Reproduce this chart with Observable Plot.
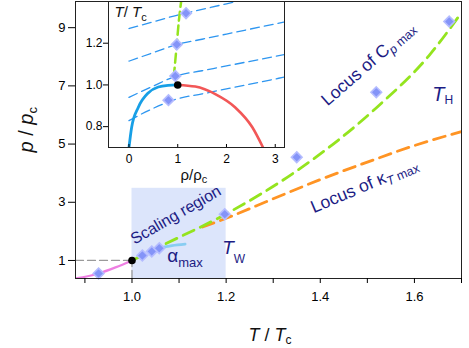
<!DOCTYPE html>
<html><head><meta charset="utf-8">
<script src="https://cdn.jsdelivr.net/npm/d3@7"></script>
<script src="https://cdn.jsdelivr.net/npm/@observablehq/plot@0.6"></script>
<style>
body{margin:0;background:#fff;}
#chart{position:relative;width:469px;height:348px;overflow:hidden;}
#chart svg{position:absolute;top:0;left:0;}
</style></head><body><div id="chart"></div>
<script>
// ---------- main chart data (T/Tc, p/pc) ----------
const vaporT = [0.88, 0.929, 0.965, 1.0];
const vaporP = [0.38, 0.552, 0.76, 1.0];
const cpT = [1.0, 1.07, 1.2, 1.35, 1.52, 1.634, 1.70];
const cpP = [1.0, 1.56, 2.6, 4.08, 6.26, 8.1, 9.52];
const ktT = [1.15, 1.2, 1.3, 1.4, 1.5, 1.6, 1.7];
const ktP = [2.15, 2.45, 3.12, 3.78, 4.38, 4.95, 5.43];
const alphaT = [1.055, 1.085, 1.113];
const alphaP = [1.42, 1.51, 1.56];
const diamondT = [0.929, 1.022, 1.042, 1.058, 1.197, 1.35, 1.519, 1.674];
const diamondP = [0.552, 1.17, 1.31, 1.42, 2.59, 4.55, 6.78, 9.21];
const criticalT = [1.0];
const criticalP = [1.0];
const scalingT = [1.0, 1.2];
const scalingP = [0.38, 3.48];
const mainXTicks = [1.0, 1.2, 1.4, 1.6];
const mainXMinor = [0.9, 1.1, 1.3, 1.5, 1.7];
const mainYTicks = [1, 3, 5, 7, 9];

// ---------- inset data (rho/rhoc, T/Tc) ----------
const gasRho = [0, 0.055, 0.19, 0.4, 0.6, 0.8, 1.0];
const gasT = [0.70, 0.797, 0.892, 0.963, 0.99, 0.998, 1.0];
const liqRho = [1.0, 1.36, 1.77, 2.18, 2.53, 2.75];
const liqT = [1.0, 0.992, 0.956, 0.892, 0.797, 0.70];
const isoRho = [0, 0.5, 1.0, 1.5, 2.0, 3.2];
const iso1T = [0.829, 0.888, 0.934, 0.957, 0.981, 1.038];
const iso2T = [0.94, 0.995, 1.045, 1.068, 1.091, 1.146];
const iso3T = [1.114, 1.155, 1.195, 1.219, 1.244, 1.302];
const iso4T = [1.27, 1.303, 1.335, 1.362, 1.389, 1.45];
const insetCpRho = [0.92, 0.98, 1.02, 1.07];
const insetCpT = [1.04, 1.194, 1.3, 1.4];
const insetDiaRho = [0.81, 0.95, 0.98, 1.17];
const insetDiaT = [0.927, 1.043, 1.194, 1.344];
const insetXTicks = [0, 1, 2, 3];
const insetYTicks = [0.8, 1.0, 1.2];

// annotation anchors (data coordinates)
const annScaling = {x: 1.0053, y: 1.54};
const annAlpha = {x: 1.0748, y: 0.94};
const annTW = {x: 1.1916, y: 1.229};
const annCp = {x: 1.4154, y: 6.29};
const annTH = {x: 1.6378, y: 6.497};
const annKt = {x: 1.3863, y: 2.624};

const zip = (xs, ys) => xs.map((x, i) => ({x, y: ys[i]}));

const FONT = '"Liberation Sans", Arial, Helvetica, sans-serif';
const NAVY = "#1c1c84";
const ctx = document.createElement("canvas").getContext("2d");
function tw(p) { ctx.font = `${p.italic ? "italic " : ""}${p.size}px ${FONT}`; return ctx.measureText(p.t).width; }
function rich(datum, parts, opts) {
  const rot = opts.rotate || 0;
  const r = rot * Math.PI / 180;
  let adv = 0;
  return parts.map(p => {
    const a = adv, b = p.shift || 0;
    adv += tw(p);
    const o = {
      text: () => p.t,
      rotate: rot,
      dx: (opts.dx || 0) + a * Math.cos(r) - b * Math.sin(r),
      dy: (opts.dy || 0) + a * Math.sin(r) + b * Math.cos(r),
      fontSize: p.size, fontStyle: p.italic ? "italic" : "normal",
      textAnchor: "start", lineAnchor: "bottom", fill: opts.fill || "#111", fontFamily: FONT
    };
    if (datum) { o.x = "x"; o.y = "y"; } else { o.frameAnchor = opts.frameAnchor; }
    return Plot.text([datum || {}], o);
  });
}

const diamondStyle = {symbol: "diamond2", r: 4.8, fill: "#8494f8", stroke: "#b4bcff", strokeWidth: 1.6};

const main = Plot.plot({
  width: 469, height: 348,
  marginLeft: 75, marginRight: 8, marginTop: 1, marginBottom: 70,
  style: {background: "transparent", fontFamily: FONT, overflow: "visible"},
  x: {domain: [0.88, 1.70]},
  y: {domain: [0.38, 9.9]},
  marks: [
    Plot.rect([{x1: scalingT[0], x2: scalingT[1], y1: scalingP[0], y2: scalingP[1]}],
      {x1: "x1", x2: "x2", y1: "y1", y2: "y2", fill: "#dce5fb"}),
    Plot.line([{x: 0.88, y: criticalP[0]}, {x: criticalT[0], y: criticalP[0]}],
      {x: "x", y: "y", stroke: "#9a9a9a", strokeWidth: 1.3, strokeDasharray: "8,4"}),
    Plot.line([{x: criticalT[0], y: 0.38}, {x: criticalT[0], y: criticalP[0]}],
      {x: "x", y: "y", stroke: "#9a9a9a", strokeWidth: 1.3, strokeDasharray: "8,4"}),
    Plot.line(zip(vaporT, vaporP), {x: "x", y: "y", stroke: "#ee7fe2", strokeWidth: 2.3, curve: "monotone-x", clip: true}),
    Plot.line(zip(ktT, ktP), {x: "x", y: "y", stroke: "#ff9424", strokeWidth: 2.8, strokeDasharray: "12,7", curve: "monotone-x", clip: true}),
    Plot.line(zip(cpT, cpP), {x: "x", y: "y", stroke: "#94e41e", strokeWidth: 2.8, strokeDasharray: "12,7", curve: "monotone-x", clip: true}),
    Plot.line(zip(alphaT, alphaP), {x: "x", y: "y", stroke: "#88cdf2", strokeWidth: 2.6, curve: "monotone-x"}),
    Plot.dot(zip(diamondT, diamondP), {x: "x", y: "y", ...diamondStyle}),
    Plot.dot(zip(criticalT, criticalP), {x: "x", y: "y", r: 3.8, fill: "#000"}),
    Plot.frame({stroke: "#222"}),
    Plot.axisX({ticks: mainXTicks, tickFormat: d3.format(".1f"), tickSize: 5, tickPadding: 8, fontSize: 13, label: null, fontFamily: FONT}),
    Plot.axisX({ticks: mainXMinor, tickFormat: () => "", tickSize: 5, label: null}),
    Plot.axisY({ticks: mainYTicks, tickSize: 7, tickPadding: 3, fontSize: 13, label: null, fontFamily: FONT}),
    ...rich(annScaling, [{t: "Scaling region", size: 16}], {rotate: -30, fill: NAVY}),
    ...rich(annAlpha, [{t: "α", size: 19}, {t: "max", size: 13, shift: 5}], {fill: NAVY}),
    ...rich(annTW, [{t: "T", size: 19, italic: true}, {t: "W", size: 12, shift: 9}], {fill: NAVY}),
    ...rich(annCp, [{t: "Locus of C", size: 17.5}, {t: "p", size: 12.5, italic: true, shift: 4}, {t: " max", size: 12.5, shift: 3}], {rotate: -41, fill: NAVY}),
    ...rich(annTH, [{t: "T", size: 20, italic: true}, {t: "H", size: 12, shift: 3}], {fill: NAVY}),
    ...rich(annKt, [{t: "Locus of κ", size: 17.5}, {t: "T", size: 12.5, italic: true, shift: 4}, {t: " max", size: 12.5, shift: 3}], {rotate: -23, fill: NAVY}),
    ...rich(null, [{t: "T", size: 18, italic: true}, {t: " / ", size: 18}, {t: "T", size: 18, italic: true}, {t: "c", size: 12, shift: 3}], {frameAnchor: "bottom-left", dx: 173, dy: 62}),
    ...rich(null, [{t: "p", size: 20, italic: true}, {t: " / ", size: 20}, {t: "p", size: 20, italic: true}, {t: "c", size: 13, shift: 4}], {frameAnchor: "top-left", dx: -42.5, dy: 151, rotate: -90})
  ]
});

const inset = Plot.plot({
  width: 240, height: 190,
  marginLeft: 48, marginRight: 16, marginTop: 1, marginBottom: 43,
  style: {background: "transparent", fontFamily: FONT, overflow: "visible"},
  x: {domain: [-0.42, 3.19]},
  y: {domain: [0.70, 1.40]},
  marks: [
    Plot.frame({fill: "white", stroke: "none"}),
    ...[iso1T, iso2T, iso3T, iso4T].map(ts => Plot.line(zip(isoRho, ts),
      {x: "x", y: "y", stroke: "#2e96f0", strokeWidth: 1.3, strokeDasharray: "9,5", curve: "monotone-x", clip: true})),
    Plot.line(zip(gasRho, gasT), {x: "x", y: "y", stroke: "#179fe6", strokeWidth: 2.8, curve: "monotone-x", clip: true}),
    Plot.line(zip(liqRho, liqT), {x: "x", y: "y", stroke: "#f25757", strokeWidth: 2.6, curve: "monotone-x", clip: true}),
    Plot.line(zip(insetCpRho, insetCpT), {x: "x", y: "y", stroke: "#94e41e", strokeWidth: 2.5, strokeDasharray: "9,5", curve: "monotone-x", clip: true}),
    Plot.dot(zip(insetDiaRho, insetDiaT), {x: "x", y: "y", ...diamondStyle}),
    Plot.dot([{x: 1, y: 1}], {x: "x", y: "y", r: 3.8, fill: "#000"}),
    Plot.frame({stroke: "#222"}),
    Plot.axisX({ticks: insetXTicks, tickFormat: d3.format("d"), tickSize: -3, tickPadding: 9.5, fontSize: 12, label: null, fontFamily: FONT}),
    Plot.axisY({ticks: insetYTicks, tickFormat: d3.format(".1f"), tickSize: 5, tickPadding: 1, fontSize: 12, label: null, fontFamily: FONT}),
    ...rich(null, [{t: "T", size: 15, italic: true}, {t: "/ ", size: 15}, {t: "T", size: 15, italic: true}, {t: "c", size: 11, shift: 3.5}], {frameAnchor: "top-left", dx: 6, dy: 15.7}),
    ...rich(null, [{t: "ρ", size: 15}, {t: "/", size: 15}, {t: "ρ", size: 15}, {t: "c", size: 11, shift: 3.5}], {frameAnchor: "bottom-left", dx: 72, dy: 32})
  ]
});
inset.style.left = "60px";
inset.style.top = "0px";

const host = document.getElementById("chart");
host.appendChild(main);
host.appendChild(inset);
</script>
</body></html>
